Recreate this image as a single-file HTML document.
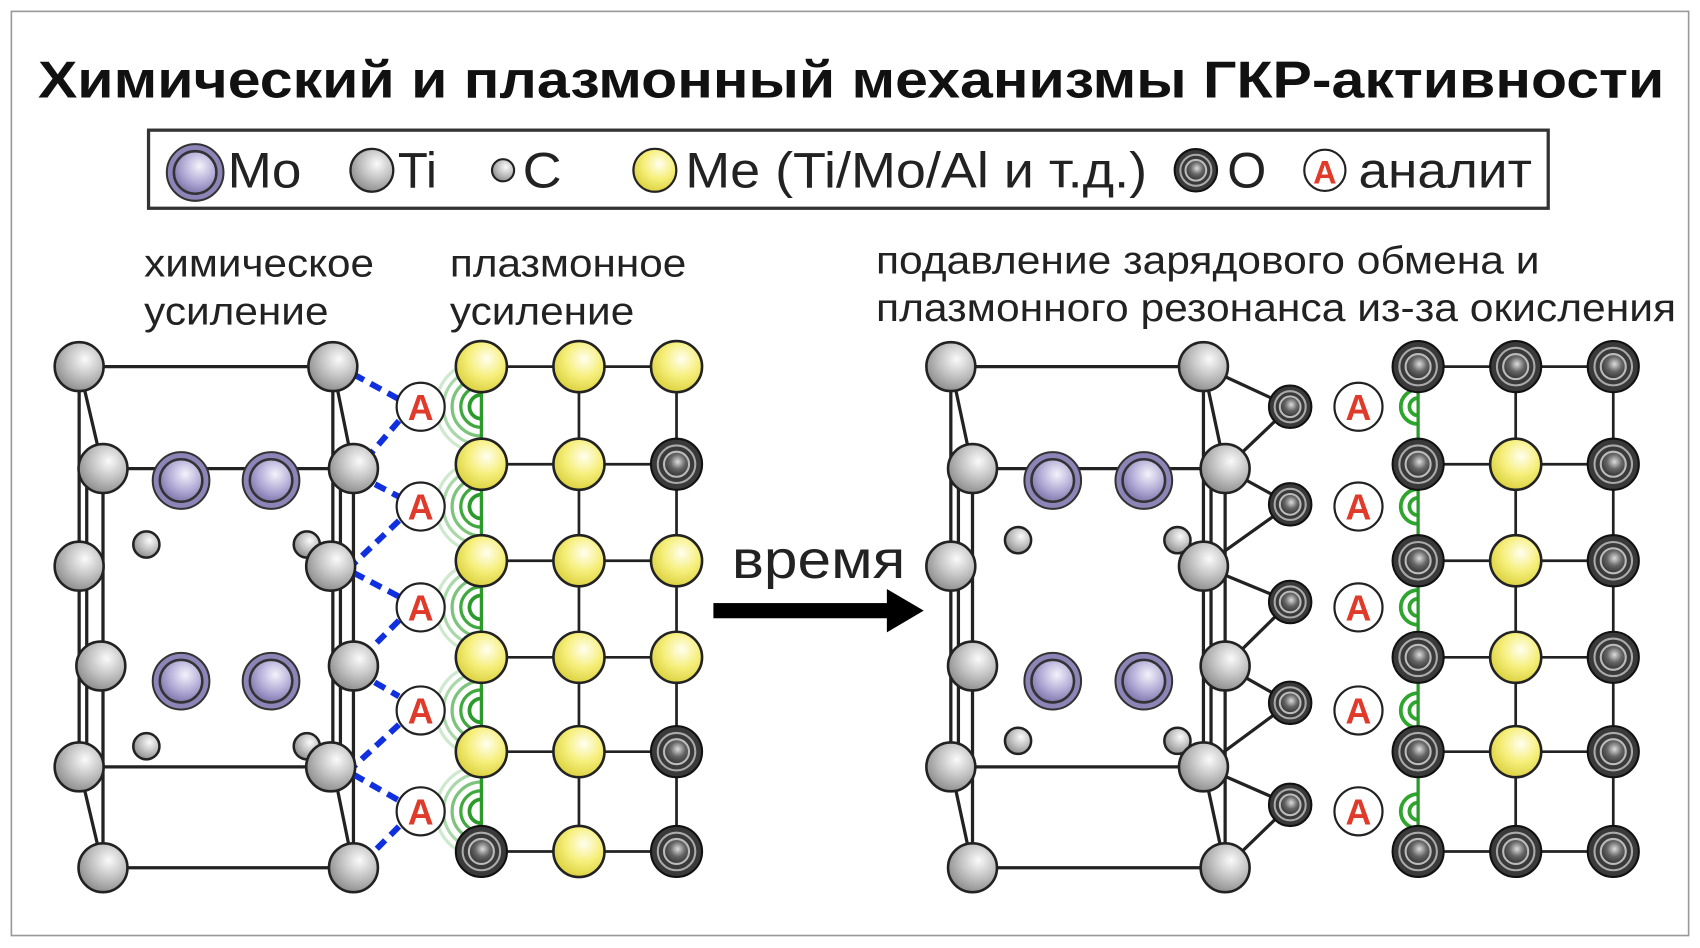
<!DOCTYPE html>
<html><head><meta charset="utf-8"><style>
html,body{margin:0;padding:0;background:#fff;width:1700px;height:948px;overflow:hidden}
svg{display:block}
text{font-family:"Liberation Sans","DejaVu Sans",sans-serif}
</style></head><body>
<svg width="1700" height="948" viewBox="0 0 1568 874" preserveAspectRatio="none" xmlns="http://www.w3.org/2000/svg">
<defs>
<radialGradient id="gTi" cx="0.62" cy="0.35" r="0.7"><stop offset="0" stop-color="#fafafa"/><stop offset="0.5" stop-color="#c4c4c4"/><stop offset="1" stop-color="#8a8a8a"/></radialGradient>
<radialGradient id="gMo" cx="0.6" cy="0.35" r="0.7"><stop offset="0" stop-color="#f4f2fb"/><stop offset="0.55" stop-color="#b3acd6"/><stop offset="1" stop-color="#7a70a8"/></radialGradient>
<radialGradient id="gMe" cx="0.6" cy="0.35" r="0.7"><stop offset="0" stop-color="#fffef0"/><stop offset="0.5" stop-color="#f6ef7c"/><stop offset="1" stop-color="#d9cf3a"/></radialGradient>
<radialGradient id="gO" cx="0.55" cy="0.4" r="0.6"><stop offset="0" stop-color="#ddd"/><stop offset="0.5" stop-color="#666"/><stop offset="1" stop-color="#333"/></radialGradient>
<symbol id="ti" viewBox="-25 -25 50 50" overflow="visible"><circle r="23.5" fill="url(#gTi)" stroke="#222" stroke-width="2.5"/></symbol>
<symbol id="c" viewBox="-14 -14 28 28" overflow="visible"><circle r="13" fill="url(#gTi)" stroke="#222" stroke-width="2.5"/></symbol>
<symbol id="mo" viewBox="-30 -30 60 60" overflow="visible"><circle r="28" fill="#8d84b8" stroke="#333" stroke-width="2"/><circle r="21" fill="url(#gMo)" stroke="#333" stroke-width="2.5"/></symbol>
<symbol id="me" viewBox="-26 -26 52 52" overflow="visible"><circle r="24.5" fill="url(#gMe)" stroke="#222" stroke-width="2.5"/></symbol>
<symbol id="o" viewBox="-26 -26 52 52" overflow="visible"><circle r="24.5" fill="#3a3a3a" stroke="#111" stroke-width="2"/><circle r="18" fill="none" stroke="#aaa" stroke-width="2"/><circle r="12" fill="url(#gO)" stroke="#bbb" stroke-width="2"/></symbol>
<symbol id="os" viewBox="-22 -22 44 44" overflow="visible"><circle r="20.5" fill="#3a3a3a" stroke="#111" stroke-width="2"/><circle r="15" fill="none" stroke="#aaa" stroke-width="2"/><circle r="10" fill="url(#gO)" stroke="#bbb" stroke-width="2"/></symbol>
<symbol id="ac" viewBox="-26 -26 52 52" overflow="visible"><circle r="24" fill="#fff" stroke="#222" stroke-width="2.2"/></symbol>
<g id="arcs"><path d="M0,-42 A42,42 0 0 0 0,42" fill="none" stroke="#cfe9cf" stroke-width="3"/><path d="M0,-35 A35,35 0 0 0 0,35" fill="none" stroke="#a9d8a9" stroke-width="3"/><path d="M0,-27 A27,27 0 0 0 0,27" fill="none" stroke="#7cc47c" stroke-width="3"/><path d="M0,-19 A19,19 0 0 0 0,19" fill="none" stroke="#3fa83f" stroke-width="3"/><path d="M0,-11 A11,11 0 0 0 0,11" fill="none" stroke="#2a9a2a" stroke-width="3.5"/></g>
<g id="sarcs"><path d="M0,-16 A16,16 0 0 0 0,16" fill="none" stroke="#2fa52f" stroke-width="3.5"/><path d="M0,-8 A8,8 0 0 0 0,8" fill="none" stroke="#2fa52f" stroke-width="3.5"/></g>
</defs>
<rect x="10.5" y="10.5" width="1547" height="852" fill="#fff" stroke="#999" stroke-width="1.5"/>
<text x="785" y="90" font-size="48" font-weight="bold" text-anchor="middle" fill="#111" textLength="1500" lengthAdjust="spacingAndGlyphs">Химический и плазмонный механизмы ГКР-активности</text>
<rect x="137" y="120" width="1291" height="72" fill="#fff" stroke="#333" stroke-width="3"/>
<use href="#mo" x="152" y="131" width="56" height="56"/>
<text x="210" y="173" font-size="46" fill="#222" textLength="68" lengthAdjust="spacingAndGlyphs">Mo</text>
<use href="#ti" x="322" y="136" width="42" height="42"/>
<text x="367" y="173" font-size="46" fill="#222" textLength="36" lengthAdjust="spacingAndGlyphs">Ti</text>
<use href="#c" x="453" y="146" width="22" height="22"/>
<text x="482" y="173" font-size="46" fill="#222" textLength="36" lengthAdjust="spacingAndGlyphs">C</text>
<use href="#me" x="583" y="136" width="42" height="42"/>
<text x="632" y="173" font-size="46" fill="#222" textLength="426" lengthAdjust="spacingAndGlyphs">Me (Ti/Mo/Al и т.д.)</text>
<use href="#os" x="1082" y="136" width="42" height="42"/>
<text x="1132" y="173" font-size="46" fill="#222" textLength="36" lengthAdjust="spacingAndGlyphs">O</text>
<circle cx="1222" cy="157" r="19" fill="#fff" stroke="#222" stroke-width="2"/>
<text x="1222" y="169" font-size="30" font-weight="bold" fill="#e03a2a" text-anchor="middle">A</text>
<text x="1253" y="173" font-size="46" fill="#222" textLength="160" lengthAdjust="spacingAndGlyphs">аналит</text>
<g font-size="36" fill="#222">
<text x="133" y="255" textLength="212" lengthAdjust="spacingAndGlyphs">химическое</text><text x="133" y="299" textLength="170" lengthAdjust="spacingAndGlyphs">усиление</text>
<text x="415" y="255" textLength="218" lengthAdjust="spacingAndGlyphs">плазмонное</text><text x="415" y="299" textLength="170" lengthAdjust="spacingAndGlyphs">усиление</text>
<text x="808" y="252" textLength="612" lengthAdjust="spacingAndGlyphs">подавление зарядового обмена и</text>
<text x="808" y="296" textLength="738" lengthAdjust="spacingAndGlyphs">плазмонного резонанса из-за окисления</text>
</g>
<text x="675" y="533" font-size="50" fill="#222" textLength="160" lengthAdjust="spacingAndGlyphs">время</text>
<rect x="658" y="556" width="162" height="14" fill="#000"/>
<polygon points="818,543 852,563 818,583" fill="#000"/>
<!-- LEFT STRUCTURE -->
<g stroke="#222" stroke-width="3" fill="none">
<line x1="73" y1="338" x2="307" y2="338"/><line x1="95" y1="432" x2="326" y2="432"/>
<line x1="73" y1="707" x2="305" y2="707"/><line x1="95" y1="800" x2="326" y2="800"/>
<line x1="73" y1="338" x2="73" y2="707"/><line x1="73" y1="338" x2="95" y2="432"/><line x1="95" y1="432" x2="95" y2="800"/><line x1="73" y1="707" x2="95" y2="800"/><line x1="80" y1="432" x2="80" y2="707"/>
<line x1="307" y1="338" x2="307" y2="707"/><line x1="307" y1="338" x2="326" y2="432"/><line x1="326" y1="432" x2="326" y2="800"/><line x1="307" y1="707" x2="326" y2="800"/><line x1="314" y1="432" x2="314" y2="707"/>
</g>
<g stroke="#1030e0" stroke-width="5.5" stroke-dasharray="11,7" fill="none">
<path d="M326,345 L368,368 M368,388 L330,432 M330,438 L368,458 M368,480 L326,520 M326,528 L368,550 M368,572 L326,614 M330,620 L368,642 M368,668 L326,707 M326,714 L368,738 M368,762 L330,800"/>
</g>
<g>
<use href="#arcs" x="444" y="375"/><use href="#arcs" x="444" y="467"/><use href="#arcs" x="444" y="560"/><use href="#arcs" x="444" y="655"/><use href="#arcs" x="444" y="748"/>
</g>
<g stroke="#222" stroke-width="2.5">
<line x1="444" y1="338" x2="624" y2="338"/><line x1="444" y1="428" x2="624" y2="428"/><line x1="444" y1="517" x2="624" y2="517"/><line x1="444" y1="606" x2="624" y2="606"/><line x1="444" y1="693" x2="624" y2="693"/><line x1="444" y1="785" x2="624" y2="785"/>
<line x1="534" y1="338" x2="534" y2="785"/><line x1="624" y1="338" x2="624" y2="785"/>
</g>
<line x1="444" y1="338" x2="444" y2="785" stroke="#2a9a2a" stroke-width="3"/>
<g>
<use href="#ti" x="49" y="314" width="48" height="48"/><use href="#ti" x="71" y="408" width="48" height="48"/><use href="#ti" x="49" y="498" width="48" height="48"/><use href="#ti" x="69" y="590" width="48" height="48"/><use href="#ti" x="49" y="683" width="48" height="48"/><use href="#ti" x="71" y="776" width="48" height="48"/>
<use href="#c" x="122" y="489" width="26" height="26"/><use href="#c" x="270" y="489" width="26" height="26"/><use href="#c" x="122" y="675" width="26" height="26"/><use href="#c" x="270" y="675" width="26" height="26"/>
<use href="#ti" x="283" y="314" width="48" height="48"/><use href="#ti" x="302" y="408" width="48" height="48"/><use href="#ti" x="281" y="498" width="48" height="48"/><use href="#ti" x="302" y="590" width="48" height="48"/><use href="#ti" x="281" y="683" width="48" height="48"/><use href="#ti" x="302" y="776" width="48" height="48"/>
<use href="#mo" x="139" y="415" width="56" height="56"/><use href="#mo" x="222" y="415" width="56" height="56"/><use href="#mo" x="139" y="600" width="56" height="56"/><use href="#mo" x="222" y="600" width="56" height="56"/>
</g>
<g>
<use href="#me" x="419" y="313" width="50" height="50"/><use href="#me" x="509" y="313" width="50" height="50"/><use href="#me" x="599" y="313" width="50" height="50"/>
<use href="#me" x="419" y="403" width="50" height="50"/><use href="#me" x="509" y="403" width="50" height="50"/><use href="#o" x="599" y="403" width="50" height="50"/>
<use href="#me" x="419" y="492" width="50" height="50"/><use href="#me" x="509" y="492" width="50" height="50"/><use href="#me" x="599" y="492" width="50" height="50"/>
<use href="#me" x="419" y="581" width="50" height="50"/><use href="#me" x="509" y="581" width="50" height="50"/><use href="#me" x="599" y="581" width="50" height="50"/>
<use href="#me" x="419" y="668" width="50" height="50"/><use href="#me" x="509" y="668" width="50" height="50"/><use href="#o" x="599" y="668" width="50" height="50"/>
<use href="#o" x="419" y="760" width="50" height="50"/><use href="#me" x="509" y="760" width="50" height="50"/><use href="#o" x="599" y="760" width="50" height="50"/>
</g>
<g font-size="33" font-weight="bold" fill="#e03a2a" text-anchor="middle">
<use href="#ac" x="364" y="351" width="48" height="48"/><text x="388" y="387">A</text>
<use href="#ac" x="364" y="443" width="48" height="48"/><text x="388" y="479">A</text>
<use href="#ac" x="364" y="536" width="48" height="48"/><text x="388" y="572">A</text>
<use href="#ac" x="364" y="631" width="48" height="48"/><text x="388" y="667">A</text>
<use href="#ac" x="364" y="724" width="48" height="48"/><text x="388" y="760">A</text>
</g>
<!-- RIGHT STRUCTURE -->
<g stroke="#222" stroke-width="3" fill="none">
<line x1="877" y1="338" x2="1110" y2="338"/><line x1="897" y1="432" x2="1130" y2="432"/>
<line x1="877" y1="707" x2="1110" y2="707"/><line x1="897" y1="800" x2="1130" y2="800"/>
<line x1="877" y1="338" x2="877" y2="707"/><line x1="877" y1="338" x2="897" y2="432"/><line x1="897" y1="432" x2="897" y2="800"/><line x1="877" y1="707" x2="897" y2="800"/><line x1="884" y1="432" x2="884" y2="707"/>
<line x1="1110" y1="338" x2="1110" y2="707"/><line x1="1110" y1="338" x2="1130" y2="432"/><line x1="1130" y1="432" x2="1130" y2="800"/><line x1="1110" y1="707" x2="1130" y2="800"/><line x1="1117" y1="432" x2="1117" y2="707"/>
<path d="M1110,338 L1190,375 L1130,432 L1190,465 L1110,522 L1190,555 L1130,614 L1190,648 L1110,707 L1190,742 L1130,800"/>
</g>
<g>
<use href="#sarcs" x="1308" y="375"/><use href="#sarcs" x="1308" y="467"/><use href="#sarcs" x="1308" y="560"/><use href="#sarcs" x="1308" y="655"/><use href="#sarcs" x="1308" y="748"/>
</g>
<g stroke="#222" stroke-width="2.5">
<line x1="1308" y1="338" x2="1488" y2="338"/><line x1="1308" y1="428" x2="1488" y2="428"/><line x1="1308" y1="517" x2="1488" y2="517"/><line x1="1308" y1="606" x2="1488" y2="606"/><line x1="1308" y1="693" x2="1488" y2="693"/><line x1="1308" y1="785" x2="1488" y2="785"/>
<line x1="1398" y1="338" x2="1398" y2="785"/><line x1="1488" y1="338" x2="1488" y2="785"/>
</g>
<line x1="1308" y1="338" x2="1308" y2="785" stroke="#2a9a2a" stroke-width="3"/>
<g>
<use href="#ti" x="853" y="314" width="48" height="48"/><use href="#ti" x="873" y="408" width="48" height="48"/><use href="#ti" x="853" y="498" width="48" height="48"/><use href="#ti" x="873" y="590" width="48" height="48"/><use href="#ti" x="853" y="683" width="48" height="48"/><use href="#ti" x="873" y="776" width="48" height="48"/>
<use href="#c" x="926" y="485" width="26" height="26"/><use href="#c" x="1073" y="485" width="26" height="26"/><use href="#c" x="926" y="670" width="26" height="26"/><use href="#c" x="1073" y="670" width="26" height="26"/>
<use href="#ti" x="1086" y="314" width="48" height="48"/><use href="#ti" x="1106" y="408" width="48" height="48"/><use href="#ti" x="1086" y="498" width="48" height="48"/><use href="#ti" x="1106" y="590" width="48" height="48"/><use href="#ti" x="1086" y="683" width="48" height="48"/><use href="#ti" x="1106" y="776" width="48" height="48"/>
<use href="#mo" x="943" y="415" width="56" height="56"/><use href="#mo" x="1027" y="415" width="56" height="56"/><use href="#mo" x="943" y="600" width="56" height="56"/><use href="#mo" x="1027" y="600" width="56" height="56"/>
<use href="#os" x="1169" y="354" width="42" height="42"/><use href="#os" x="1169" y="444" width="42" height="42"/><use href="#os" x="1169" y="534" width="42" height="42"/><use href="#os" x="1169" y="627" width="42" height="42"/><use href="#os" x="1169" y="721" width="42" height="42"/>
</g>
<g>
<use href="#o" x="1283" y="313" width="50" height="50"/><use href="#o" x="1373" y="313" width="50" height="50"/><use href="#o" x="1463" y="313" width="50" height="50"/>
<use href="#o" x="1283" y="403" width="50" height="50"/><use href="#me" x="1373" y="403" width="50" height="50"/><use href="#o" x="1463" y="403" width="50" height="50"/>
<use href="#o" x="1283" y="492" width="50" height="50"/><use href="#me" x="1373" y="492" width="50" height="50"/><use href="#o" x="1463" y="492" width="50" height="50"/>
<use href="#o" x="1283" y="581" width="50" height="50"/><use href="#me" x="1373" y="581" width="50" height="50"/><use href="#o" x="1463" y="581" width="50" height="50"/>
<use href="#o" x="1283" y="668" width="50" height="50"/><use href="#me" x="1373" y="668" width="50" height="50"/><use href="#o" x="1463" y="668" width="50" height="50"/>
<use href="#o" x="1283" y="760" width="50" height="50"/><use href="#o" x="1373" y="760" width="50" height="50"/><use href="#o" x="1463" y="760" width="50" height="50"/>
</g>
<g font-size="33" font-weight="bold" fill="#e03a2a" text-anchor="middle">
<use href="#ac" x="1229" y="351" width="48" height="48"/><text x="1253" y="387">A</text>
<use href="#ac" x="1229" y="443" width="48" height="48"/><text x="1253" y="479">A</text>
<use href="#ac" x="1229" y="536" width="48" height="48"/><text x="1253" y="572">A</text>
<use href="#ac" x="1229" y="631" width="48" height="48"/><text x="1253" y="667">A</text>
<use href="#ac" x="1229" y="724" width="48" height="48"/><text x="1253" y="760">A</text>
</g>
</svg>
</body></html>
